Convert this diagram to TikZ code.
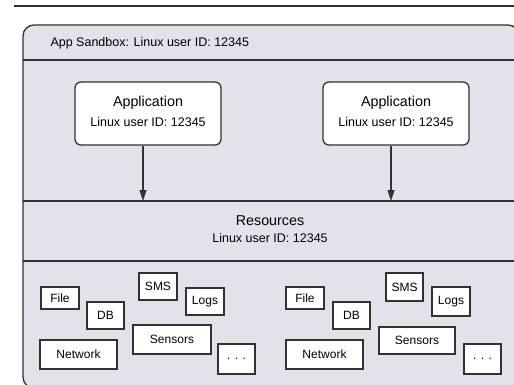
\documentclass[tikz,border=0pt]{standalone}
\usepackage{fontspec}
\setmainfont{Liberation Sans}
\usetikzlibrary{arrows.meta}
\definecolor{bgfill}{RGB}{226,226,234}
\definecolor{edge}{RGB}{50,50,50}
\begin{document}
\begin{tikzpicture}[x=1pt,y=-1pt,
  line/.style={draw=edge,line width=1.3pt},
  appbox/.style={line,fill=white,rounded corners=6pt,minimum width=146pt,minimum height=63pt,align=center,inner sep=0pt},
  resbox/.style={line,fill=white,inner sep=0pt,font=\fontsize{12}{14}\selectfont},
  conn/.style={draw=edge,line width=1.2pt,-{Triangle[length=11pt,width=7pt]}}
]
\useasboundingbox (0,0) rectangle (514,385);
\begin{scope}
\clip (0,0) rectangle (514,385);
\fill[white] (0,0) rectangle (514,385);
\draw[line] (14,6) -- (520,6);
\draw[line,fill=bgfill,rounded corners=11pt] (23,25) rectangle (519,388);
\draw[line] (23,60) -- (519,60);
\draw[line] (23,201) -- (519,201);
\draw[line] (23,261) -- (519,261);
\end{scope}

\node[anchor=west,font=\fontsize{12.5}{14}\selectfont] (title) at (47,43) {App Sandbox: Linux user ID: 12345};

\node[appbox] (app1) at (148,113.5) {};
\node[font=\fontsize{14.3}{16}\selectfont] (app1t) at (148,103) {Application};
\node[font=\fontsize{12.5}{14}\selectfont] (app1s) at (148,122) {Linux user ID: 12345};
\node[appbox] (app2) at (396,113.5) {};
\node[font=\fontsize{14.3}{16}\selectfont] (app2t) at (396,103) {Application};
\node[font=\fontsize{12.5}{14}\selectfont] (app2s) at (396,122) {Linux user ID: 12345};

\coordinate (r1) at (143,201);
\coordinate (r2) at (391,201);
\draw[conn] (app1.south -| r1) -- (r1);
\draw[conn] (app2.south -| r2) -- (r2);

\node[font=\fontsize{14.3}{16}\selectfont] (res) at (270,221) {Resources};
\node[font=\fontsize{12.5}{14}\selectfont] (ress) at (270,238) {Linux user ID: 12345};

% left group
\node[resbox,minimum width=38pt,minimum height=22pt] (file1) at (60,298) {File};
\node[resbox,minimum width=37pt,minimum height=27pt] (db1) at (105.5,315.5) {DB};
\node[resbox,minimum width=38pt,minimum height=27pt] (sms1) at (158,286.5) {SMS};
\node[resbox,minimum width=38pt,minimum height=27pt] (logs1) at (205,301.5) {Logs};
\node[resbox,minimum width=78pt,minimum height=29pt] (sens1) at (172,339.5) {Sensors};
\node[resbox,minimum width=77pt,minimum height=29pt] (net1) at (78.5,354.5) {Network};
\node[resbox,minimum width=37pt,minimum height=30pt] (dots1) at (236.5,359) {. . .};
% right group
\node[resbox,minimum width=38pt,minimum height=22pt] (file2) at (305,298) {File};
\node[resbox,minimum width=37pt,minimum height=27pt] (db2) at (351.5,315.5) {DB};
\node[resbox,minimum width=37pt,minimum height=28pt] (sms2) at (404.5,287) {SMS};
\node[resbox,minimum width=38pt,minimum height=29pt] (logs2) at (451,301.5) {Logs};
\node[resbox,minimum width=76pt,minimum height=27pt] (sens2) at (417,340.5) {Sensors};
\node[resbox,minimum width=77pt,minimum height=29pt] (net2) at (324.5,354.5) {Network};
\node[resbox,minimum width=37pt,minimum height=30pt] (dots2) at (482.5,359) {. . .};
\end{tikzpicture}
\end{document}
